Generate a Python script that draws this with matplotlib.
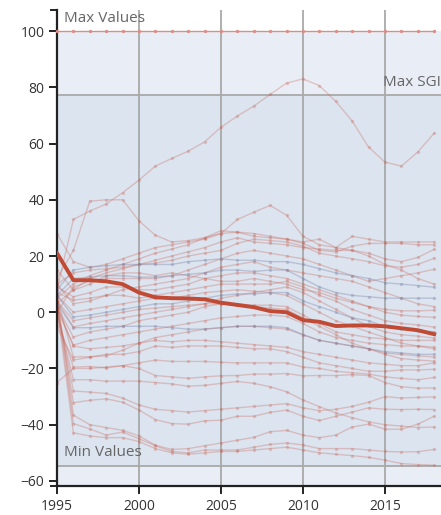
import matplotlib
matplotlib.use("Agg")
import matplotlib.pyplot as plt
from matplotlib.lines import Line2D
import numpy as np

plt.rcParams['font.family'] = ['Open Sans', 'DejaVu Sans']

years = list(range(1995, 2019))

max_values = [100] * len(years)
max_sgi = 77.2
min_values = -54.8

mean_line = [21, 11.4, 11.4, 11, 10, 7, 5.3, 5, 4.9, 4.6, 3.4, 2.6, 1.8, 0.4, 0, -2.8,
             -3.4, -4.9, -4.7, -4.7, -5, -5.7, -6.4, -7.8]

red_series = [
    [8, 33, 36, 38.5, 42.5, 47, 52, 54.7, 57.3, 60.6, 65.8, 69.8, 73.3, 77.5, 81.5, 83, 80.6, 75, 68, 58.7, 53.4, 52, 57, 63.7],
    [12, 22, 39.5, 40, 40, 32.5, 27.4, 25, 25.5, 26.5, 28, 33, 35.6, 38, 34.5, 27, 24, 23, 22, 20, 17, 15, 12, 10],
    [28, 18, 16, 17, 19, 21, 23, 24, 25, 26, 28, 28.5, 28, 27, 26, 25, 26, 23, 27, 26, 25, 25, 25, 25],
    [5, 10, 13, 15, 17, 19, 21, 22.5, 24, 26.5, 29, 28.5, 27, 26.5, 26, 24.5, 22, 21.5, 23.5, 24.5, 24.5, 24.5, 24, 24],
    [3, 8, 12, 14, 15.5, 17, 18.5, 20, 21.5, 23, 25, 26.5, 25, 24.5, 24, 23, 22.5, 22, 22, 21, 19, 18, 19.5, 22.4],
    [10, 14, 15, 15.5, 16, 17, 17.5, 18.5, 20, 21, 22, 24.5, 26, 25.5, 25, 23.5, 21, 20, 19, 18, 16.5, 16, 17, 19.2],
    [0, 9, 11, 12, 12, 12, 12, 13, 15, 17, 19, 21, 22, 21, 20, 19, 17, 15, 13, 11, 12, 13, 14, 15.3],
    [15, 7.8, 10, 13, 14, 14, 13, 14, 13, 12, 11, 11, 12, 11, 10, 8, 7, 5, 3.5, 2, 1, 0.5, 0.5, 0.7],
    [9, 5.5, 7, 9, 9, 8, 8, 9, 10, 12, 13, 14, 14, 13, 12, 10, 8, 6, 4, 2, 0, -1, -1.5, -1.8],
    [7, 4.3, 5, 6, 6, 5, 6, 7, 8, 9, 10, 10, 10, 10, 11, 9, 6, 4, 1, -1, -3, -4, -4.5, -5.3],
    [4, -5.2, -4, -3, -2, -1, 0, 1, 2, 3, 5, 6, 7, 8, 9, 7, 4, 1, -2, -5, -7, -8, -8.5, -9.2],
    [2, -8.8, -7, -6, -5, -3, -2, -1, 0, 2, 3, 3, 2.5, 2.5, 2, -1, -4, -7, -8, -9, -9.5, -10, -10, -10],
    [1, -11.7, -10, -9, -8, -7, -6, -5, -4, -3, -2, -1.5, -1, -1, -1.5, -4, -7, -9, -10, -11, -11.5, -12, -12, -12.4],
    [5, -15.9, -15.8, -15.5, -13.5, -11, -9, -8, -7, -6, -5.5, -5, -5, -5.5, -6, -8, -10, -11, -12, -13, -14.5, -15, -15.5, -15.9],
    [-2, -19.5, -19.3, -19.8, -19, -18, -17, -17.5, -17.5, -17.5, -17.8, -18, -18, -18, -18, -19.5, -20, -21, -21.5, -22, -23, -23.5, -24, -23.2],
    [-25, -20, -20, -19.5, -19, -20, -22.5, -23, -23.5, -23, -22.6, -22.5, -22, -22, -21.8, -22.6, -22.5, -22.5, -22.2, -22.5, -25, -26.5, -27, -26.9],
    [0, -24, -24, -24.5, -24.5, -24.5, -25, -25.5, -26.3, -26, -25.3, -24.6, -25.3, -26.5, -28.3, -31.2, -33.6, -35.8, -37.5, -39, -40, -40.5, -41, -40.8],
    [2, -28, -28.4, -28.9, -30.5, -33, -34.5, -35, -35.5, -35, -34.5, -34, -33.5, -33, -32.5, -34, -35, -34.5, -33.5, -32, -30, -30.5, -30.3, -30.1],
    [3, -32.2, -31.3, -30.8, -32, -34.8, -38.2, -39.6, -39.8, -38.6, -38.4, -37, -37, -35.6, -34.8, -37, -38.5, -37, -35.5, -34, -34.5, -34.6, -34.5, -34.6],
    [6, -36.6, -40, -41, -42, -44, -47.3, -48.8, -48.5, -47.5, -46.5, -45.5, -44.5, -42.5, -42, -43.7, -44.6, -43.7, -40.8, -39.8, -41.6, -41.6, -39.8, -37],
    [4, -39.6, -41.5, -43.7, -42.6, -45, -47.5, -49.5, -50, -49, -49, -49, -48, -47, -46.5, -47.2, -48.5, -48.5, -48.5, -49, -49.5, -49.7, -49.6, -48.8],
    [2, -42.9, -44, -44.6, -44.6, -46, -48.5, -50, -50.5, -50, -49.5, -49.5, -49, -48.5, -48, -49, -50, -50.5, -51, -51.6, -52.6, -53.8, -54.2, -54.4],
    [10, 3, 4, 6, 8, 9, 10, 11, 12, 14, 16, 17, 18, 16, 15, 14, 13, 12, 11, 9, 7, 5, 3, 2],
    [6, 0, 1, 2, 3, 4, 5, 5, 6, 7, 7.5, 8, 7.5, 7, 6, 3, 0, -3, -5, -7, -9, -11, -12, -13],
    [4, -3, -2, -1, 0, 1, 1.5, 2, 2.5, 3, 3, 2.5, 2, 1.5, 1, -2, -5, -8, -11, -13, -15, -16.5, -17, -17.4],
    [2, -12, -13, -12.5, -12, -11, -10, -10.5, -10, -10, -10.5, -11, -11.5, -12, -12.5, -14, -15, -16, -17, -18, -18.5, -19, -19, -18],
    [-5, -17, -16, -15, -15, -14, -12, -12.5, -12, -12, -12, -12.5, -13, -13, -14, -16, -18, -19, -20, -21, -21, -20.5, -20.5, -20.3],
]

blue_series = [
    [8, 15, 16, 16.5, 17, 17, 17, 17, 18, 18.5, 19, 18.5, 18.5, 18, 18, 17, 15.5, 14, 13, 12, 10.5, 10, 9.5, 8.9],
    [6, 12, 12.5, 13, 13, 12.5, 12.5, 13, 13.5, 14, 15, 15, 14.5, 15, 15, 12, 9, 7, 6, 5.5, 5, 5, 5, 5],
    [6, -1.7, -1, 0, 1, 2, 3, 3, 4, 5, 6, 6.5, 6.5, 7, 7, 4, 2, 0, -2, -3, -5, -6, -6.5, -7],
    [3, -5.5, -5.5, -5, -5, -5, -5, -5.5, -6, -6, -5.5, -5, -5, -5, -5.5, -8, -10, -11, -12, -13, -14, -14.5, -15, -15],
]

W, H = 441, 515
fig = plt.figure(figsize=(W / 100, H / 100), dpi=100)
left, right, top, bottom = 57, 441, 10, 486
ax = fig.add_axes([left / W, (H - bottom) / H, (right - left) / W, (bottom - top) / H])

x0 = 1995
x1 = 1995 + (right - left) / 16.4
ax.set_xlim(x0, x1)
ax.set_ylim(-61.8, 107.5)

# background bands
ax.axhspan(max_sgi, 100, color='#e9eef6', zorder=0, lw=0)
ax.axhspan(min_values, max_sgi, color='#dbe4ef', zorder=0, lw=0)
ax.axhspan(-61.8, min_values, color='#e9eef6', zorder=0, lw=0)

for yr in [2000, 2005, 2010, 2015]:
    ax.axvline(yr, color='#a9a9a9', lw=1.3, zorder=1)
ax.axhline(max_sgi, color='#a9a9a9', lw=1.3, zorder=1)
ax.axhline(min_values, color='#a9a9a9', lw=1.3, zorder=1)

for s in red_series:
    ax.plot(years, s, color='#c9675a', alpha=0.32, lw=1.0, marker='o', ms=2.4,
            mec='none', zorder=2)
for s in blue_series:
    ax.plot(years, s, color='#7e84a8', alpha=0.38, lw=1.0, marker='o', ms=2.4,
            mec='none', zorder=2)

ax.plot(years, max_values, color='#d78f86', lw=1.0, marker='o', ms=2.4, mec='none',
        zorder=3, clip_on=False)
ax.plot(years, mean_line, color='#c04a34', lw=2.8, zorder=4, solid_joinstyle='round')

ax.text(1995.4, 104.6, 'Max Values', fontsize=11, color='#666666', va='center', ha='left')
ax.text(2014.85, 81.6, 'Max SGI', fontsize=11, color='#666666', va='center', ha='left')
ax.text(1995.4, -49.8, 'Min Values', fontsize=11, color='#666666', va='center', ha='left')

ax.set_xticks([1995, 2000, 2005, 2010, 2015])
ax.set_yticks(range(-60, 101, 20))
ax.tick_params(axis='both', length=6, width=1.4, color='#222222', labelsize=10,
               labelcolor='#333333', pad=3)
for side in ['top', 'right']:
    ax.spines[side].set_visible(False)
for side in ['left', 'bottom']:
    ax.spines[side].set_linewidth(1.6)
    ax.spines[side].set_color('#222222')

# outer ticks at axis ends, d3 style
fy_top = (H - top) / H
fy_bot = (H - bottom) / H
fig.add_artist(Line2D([(left - 6) / W, left / W], [fy_top, fy_top], color='#222222', lw=1.4))
fig.add_artist(Line2D([(left - 6) / W, left / W], [fy_bot, fy_bot], color='#222222', lw=1.4))

fig.savefig('out.png', dpi=100)
